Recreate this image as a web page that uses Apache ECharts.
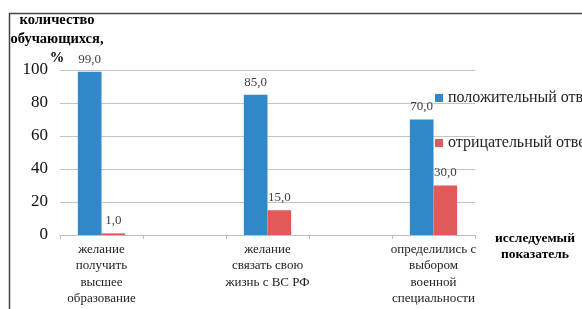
<!DOCTYPE html>
<html>
<head>
<meta charset="utf-8">
<script src="https://cdn.jsdelivr.net/npm/echarts@6/dist/echarts.min.js"></script>
<style>html,body{margin:0;padding:0;background:#fff;}#c{width:582px;height:309px;}</style>
</head>
<body>
<div id="c"></div>
<script>
const categories = ['желание\nполучить\nвысшее\nобразование', '', 'желание\nсвязать свою\nжизнь с ВС РФ', ' ', 'определились с\nвыбором\nвоенной\nспециальности'];
const positive = [99.0, null, 85.0, null, 70.0];
const negative = [1.0, null, 15.0, null, 30.0];
const seriesNames = ['положительный ответ', 'отрицательный ответ'];
const yTicks = [0, 20, 40, 60, 80, 100];

const serif = 'Liberation Serif';
const chart = echarts.init(document.getElementById('c'), null, {renderer: 'canvas'});
const fmt = p => p.value == null ? '' : p.value.toFixed(1).replace('.', ',');
chart.setOption({
  animation: false,
  textStyle: {fontFamily: serif},
  grid: {left: 60, right: 107, top: 70, bottom: 74, containLabel: false},
  legend: {
    orient: 'vertical', left: 430, top: 85, itemWidth: 8, itemHeight: 8, itemGap: 29,
    icon: 'rect',
    textStyle: {fontFamily: serif, fontSize: 16, color: '#222'},
    data: seriesNames
  },
  xAxis: {
    type: 'category', data: categories,
    axisLine: {lineStyle: {color: '#bfbfbf'}},
    axisTick: {show: true, length: 4, lineStyle: {color: '#bfbfbf'}},
    axisLabel: {interval: 0, fontFamily: serif, fontSize: 13, lineHeight: 16.5, color: '#222', margin: 6},
    name: 'исследуемый\nпоказатель', nameLocation: 'end', nameGap: 60, nameMoveOverlap: false,
    nameTextStyle: {fontFamily: serif, fontWeight: 'bold', fontSize: 13.5, color: '#000', align: 'center', verticalAlign: 'top', lineHeight: 16, padding: [-4, 0, 0, 0]}
  },
  yAxis: {
    type: 'value', min: yTicks[0], max: yTicks[yTicks.length - 1], interval: 20,
    axisLine: {show: false}, axisTick: {show: false},
    splitLine: {lineStyle: {color: '#c4c4c4'}},
    axisLabel: {fontFamily: serif, fontSize: 17, color: '#111', margin: 12},
    name: 'количество\nобучающихся,\n%', nameLocation: 'end', nameGap: 2, nameMoveOverlap: false,
    nameTextStyle: {fontFamily: serif, fontWeight: 'bold', fontSize: 14.5, color: '#000', align: 'center', lineHeight: 19, padding: [0, 6, 0, 0]}
  },
  series: [
    {name: seriesNames[0], type: 'bar', data: positive, barGap: '0%', barCategoryGap: '43%',
     itemStyle: {color: '#2f88c8'},
     label: {show: true, position: 'top', distance: 6, formatter: fmt, fontFamily: serif, fontSize: 13, color: '#404040'}},
    {name: seriesNames[1], type: 'bar', data: negative,
     itemStyle: {color: '#e05a5a'},
     label: {show: true, position: 'top', distance: 6, formatter: fmt, fontFamily: serif, fontSize: 13, color: '#404040'}}
  ],
  graphic: [
    {type: 'line', shape: {x1: 9.5, y1: 13, x2: 9.5, y2: 309}, style: {stroke: '#444', lineWidth: 1.5}, silent: true},
    {type: 'line', shape: {x1: 9, y1: 13.5, x2: 582, y2: 13.5}, style: {stroke: '#444', lineWidth: 1.5}, silent: true}
  ]
});
</script>
</body>
</html>
